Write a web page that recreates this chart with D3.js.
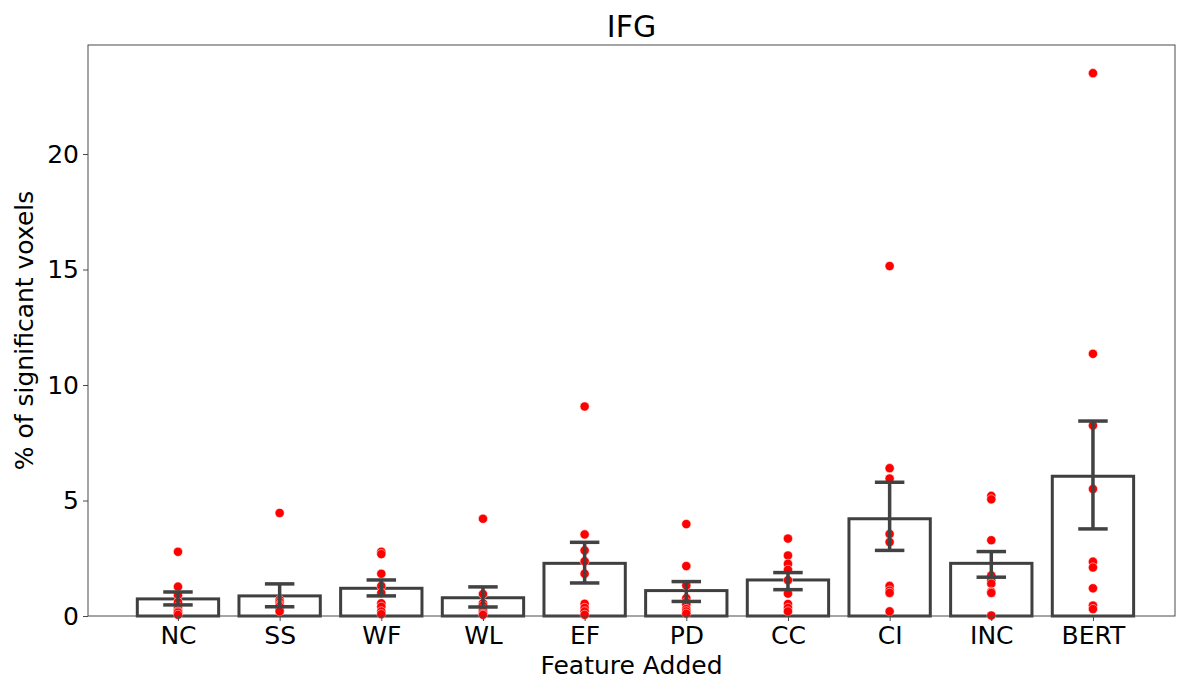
<!DOCTYPE html>
<html>
<head>
<meta charset="utf-8">
<script src="https://cdn.jsdelivr.net/npm/d3@7"></script>
<style>
  body { margin: 0; background: #fff; }
  text { font-family: "DejaVu Sans", sans-serif; }
</style>
</head>
<body>
<svg id="chart" width="1177" height="682"></svg>
<script>
'use strict';

// categories along the x axis
const features = ['NC', 'SS', 'WF', 'WL', 'EF', 'PD', 'CC', 'CI', 'INC', 'BERT'];

// bar heights (mean % of significant voxels) and the CI ends of the error bars
const means  = [0.74, 0.87, 1.20, 0.79, 2.28, 1.10, 1.56, 4.21, 2.28, 6.05];
const ciLow  = [0.48, 0.40, 0.87, 0.39, 1.43, 0.63, 1.14, 2.84, 1.68, 3.77];
const ciHigh = [1.04, 1.39, 1.56, 1.26, 3.19, 1.49, 1.88, 5.79, 2.79, 8.44];

// single-subject values, one list per feature
const subjects = [
  [2.78, 1.27, 0.90, 0.60, 0.40, 0.30, 0.20, 0.15, 0.05],
  [4.46, 0.70, 0.60, 0.50, 0.45, 0.40, 0.30, 0.25, 0.20],
  [2.78, 2.68, 1.83, 1.30, 1.00, 0.55, 0.40, 0.20, 0.08],
  [4.21, 0.95, 0.55, 0.45, 0.30, 0.26, 0.20, 0.10, 0.05],
  [9.07, 3.53, 2.84, 2.37, 1.83, 0.53, 0.35, 0.20, 0.05],
  [3.98, 2.16, 1.32, 0.77, 0.60, 0.50, 0.30, 0.20, 0.10],
  [3.35, 2.62, 2.26, 2.00, 1.55, 0.97, 0.52, 0.35, 0.20],
  [15.15, 6.40, 5.95, 3.55, 3.20, 1.30, 1.10, 1.00, 0.20],
  [5.20, 5.05, 3.28, 1.75, 1.55, 1.40, 1.05, 1.00, 0.02],
  [23.50, 11.35, 8.25, 5.50, 2.35, 2.10, 1.20, 0.45, 0.30]
];

const yTicks = [0, 5, 10, 15, 20];

// plot frame
const margin = { top: 45, right: 2, bottom: 66, left: 88 },
      width = 1177 - margin.left - margin.right,
      height = 682 - margin.top - margin.bottom;

const svg = d3.select('#chart');
const graph = svg.append('g')
    .attr('transform', `translate(${margin.left}, ${margin.top})`);

// x is the category index, matplotlib style limits
const x = d3.scaleLinear()
    .domain([-0.885, 9.807])
    .range([0, width]);

const y = d3.scaleLinear()
    .domain([0, 24.72])
    .range([height, 0]);

const barW = x(0.8) - x(0);
const capW = x(0.29) - x(0);
const axisColor = '#4a4a4a';
const barColor = '#3f3f3f';

// bars, hollow
graph.selectAll('rect.bar')
    .data(means)
  .enter().append('rect')
    .attr('class', 'bar')
    .attr('x', (d, i) => x(i) - barW / 2)
    .attr('y', d => y(d))
    .attr('width', barW)
    .attr('height', d => y(0) - y(d))
    .attr('fill', 'white')
    .attr('stroke', barColor)
    .attr('stroke-width', 3);

// subject dots
const dots = subjects.flatMap((vals, i) => vals.map(v => ({ i, v })));
graph.selectAll('circle.dot')
    .data(dots)
  .enter().append('circle')
    .attr('class', 'dot')
    .attr('cx', d => x(d.i))
    .attr('cy', d => y(d.v))
    .attr('r', 4.6)
    .attr('fill', '#ff0000')
    .attr('stroke', 'white')
    .attr('stroke-width', 0.5);

// error bars
const err = graph.selectAll('g.err')
    .data(features)
  .enter().append('g')
    .attr('class', 'err')
    .attr('stroke', '#424242')
    .attr('stroke-width', 3.5);

err.append('line')
    .attr('x1', (d, i) => x(i)).attr('x2', (d, i) => x(i))
    .attr('y1', (d, i) => y(ciLow[i])).attr('y2', (d, i) => y(ciHigh[i]));
err.append('line')
    .attr('x1', (d, i) => x(i) - capW / 2).attr('x2', (d, i) => x(i) + capW / 2)
    .attr('y1', (d, i) => y(ciLow[i])).attr('y2', (d, i) => y(ciLow[i]));
err.append('line')
    .attr('x1', (d, i) => x(i) - capW / 2).attr('x2', (d, i) => x(i) + capW / 2)
    .attr('y1', (d, i) => y(ciHigh[i])).attr('y2', (d, i) => y(ciHigh[i]));

// axes
const xAxis = d3.axisBottom(x)
    .tickValues(d3.range(features.length))
    .tickFormat(i => features[i])
    .tickSize(5)
    .tickPadding(5);

const yAxis = d3.axisLeft(y)
    .tickValues(yTicks)
    .tickSize(5)
    .tickPadding(4);

const gx = graph.append('g')
    .attr('transform', `translate(0, ${height})`)
    .call(xAxis);

const gy = graph.append('g')
    .call(yAxis);

[gx, gy].forEach(g => {
  g.select('.domain').remove();
  g.selectAll('.tick line').attr('stroke', axisColor);
  g.selectAll('.tick text')
      .attr('fill', '#000')
      .style('font-size', '25px')
      .style('font-family', '"DejaVu Sans", sans-serif');
});

// frame
graph.append('rect')
    .attr('width', width)
    .attr('height', height)
    .attr('fill', 'none')
    .attr('stroke', axisColor)
    .attr('stroke-width', 1);

// labels
svg.append('text')
    .attr('x', margin.left + width / 2)
    .attr('y', 37)
    .attr('text-anchor', 'middle')
    .style('font-size', '30px')
    .text('IFG');

svg.append('text')
    .attr('x', margin.left + width / 2)
    .attr('y', 674)
    .attr('text-anchor', 'middle')
    .style('font-size', '25px')
    .text('Feature Added');

svg.append('text')
    .attr('transform', `translate(33, ${margin.top + height / 2}) rotate(-90)`)
    .attr('text-anchor', 'middle')
    .style('font-size', '25px')
    .text('% of significant voxels');
</script>
</body>
</html>
